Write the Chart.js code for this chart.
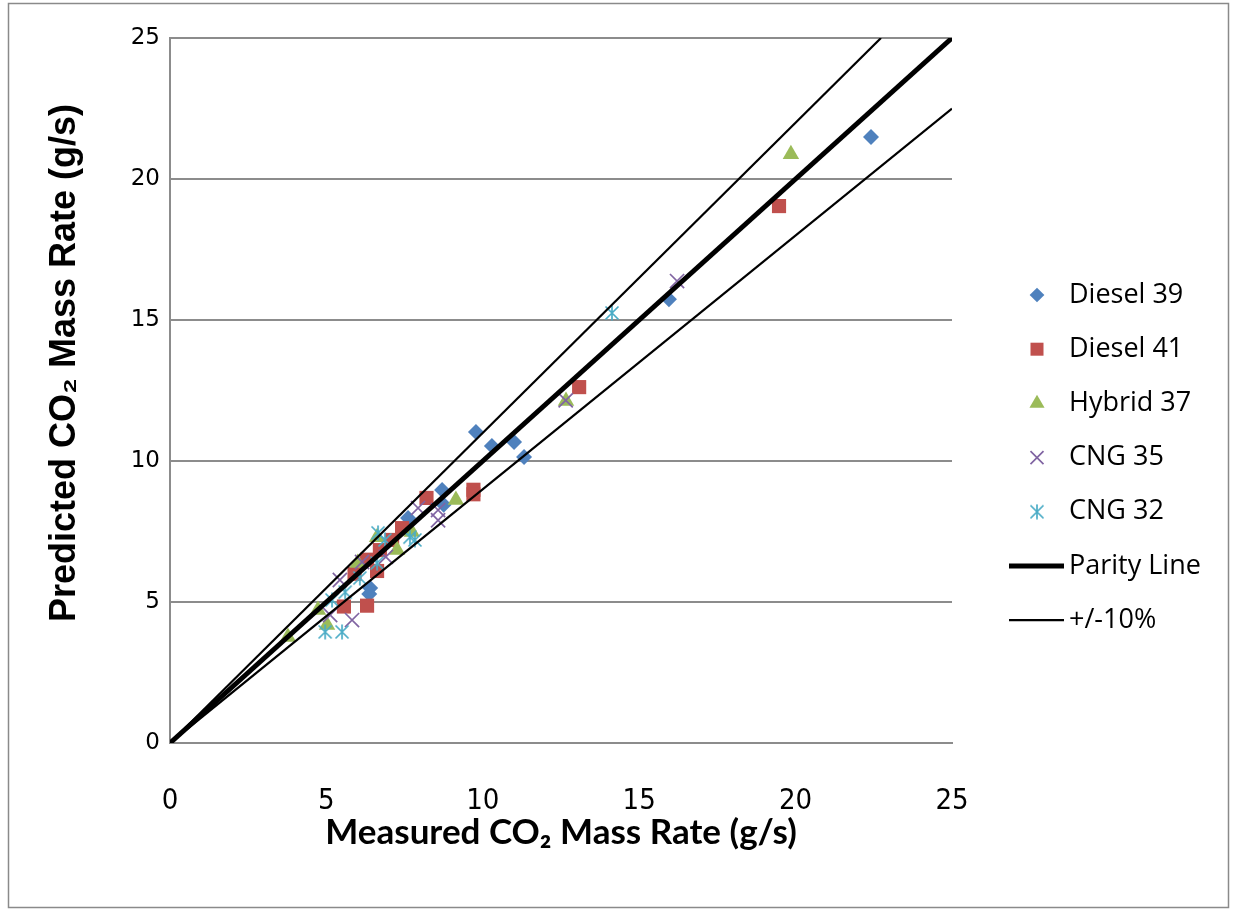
<!DOCTYPE html>
<html><head><meta charset="utf-8">
<script src="https://cdn.jsdelivr.net/npm/chart.js@4.4.0/dist/chart.umd.min.js"></script>
<style>html,body{margin:0;padding:0;background:#fff;}#wrap{position:relative;width:1233px;height:912px;}</style>
</head><body><div id="wrap"><canvas id="c" width="1233" height="912"></canvas></div>
<script>
// ---- data ----
const seriesNames = ['Diesel 39', 'Diesel 41', 'Hybrid 37', 'CNG 35', 'CNG 32', 'Parity Line', '+/-10%'];
const diesel39 = [[22.41,21.49],[15.95,15.74],[9.78,11.03],[10.29,10.53],[11.0,10.67],[11.32,10.14],[8.70,8.97],[7.61,7.98],[6.40,5.50],[6.37,5.28],[8.75,8.45]];
const diesel41 = [[19.47,19.04],[13.08,12.62],[9.70,8.98],[9.70,8.82],[8.20,8.69],[5.56,4.84],[6.30,4.87],[6.62,6.10],[6.71,6.84],[7.42,7.62],[6.30,6.50],[7.10,7.20],[5.90,6.00]];
const hybrid37 = [[19.85,20.88],[12.66,12.13],[9.14,8.62],[6.62,7.30],[7.26,6.84],[6.00,6.38],[4.73,4.72],[5.02,4.18],[3.77,3.76],[7.73,7.48]];
const cng35 = [[16.21,16.38],[12.65,12.15],[7.93,8.33],[8.57,8.26],[8.57,7.90],[5.82,4.36],[5.12,4.54],[6.14,6.42],[5.43,5.78],[6.90,6.60]];
const cng32 = [[14.13,15.25],[4.96,3.94],[5.50,3.94],[5.18,5.07],[5.60,5.35],[6.07,5.85],[6.62,6.38],[6.65,7.45],[6.87,7.20],[7.67,7.30],[7.83,7.20]];
const parityLine = [[0,0],[25,25]];
const plusTen = [[0,0],[22.73,25]];
const minusTen = [[0,0],[25,22.5]];
const axisMin = 0, axisMax = 25, tickStep = 5;
const xTitle = 'Measured CO\u2082 Mass Rate (g/s)';
const yTitle = 'Predicted CO\u2082 Mass Rate (g/s)';

const toXY = a => a.map(p => ({x: p[0], y: p[1]}));

function makeAsterisk(size, color, lw) {
  const c = document.createElement('canvas');
  c.width = size; c.height = size;
  const g = c.getContext('2d');
  g.strokeStyle = color; g.lineWidth = lw; g.lineCap = 'butt';
  const m = size / 2, d = size / 2 - 1.5;
  g.beginPath();
  g.moveTo(m - d, m - d); g.lineTo(m + d, m + d);
  g.moveTo(m + d, m - d); g.lineTo(m - d, m + d);
  g.moveTo(m, 0.5); g.lineTo(m, size - 0.5);
  g.stroke();
  return c;
}
const asterisk = makeAsterisk(16, '#4BACC6', 1.7);

function markerSet(label, data, style, color, radius, order, bw) {
  return {
    label, data: toXY(data), showLine: false, order,
    pointStyle: style, pointRadius: radius, pointHoverRadius: radius,
    pointBackgroundColor: color, pointBorderColor: color,
    pointBorderWidth: bw || 0, backgroundColor: color, borderColor: color
  };
}
function lineSet(label, data, width, hide) {
  return {
    label, data: toXY(data), showLine: true, order: 0, borderColor: '#000',
    backgroundColor: '#000', borderWidth: width, pointRadius: 0, pointHoverRadius: 0,
    fill: false, hideInLegend: !!hide
  };
}

const datasets = [
  markerSet(seriesNames[0], diesel39, 'rectRot', '#4F81BD', 8, 5),
  markerSet(seriesNames[1], diesel41, 'rect', '#C0504D', 10, 4),
  markerSet(seriesNames[2], hybrid37, 'triangle', '#9BBB59', 9.5, 3),
  markerSet(seriesNames[3], cng35, 'crossRot', '#8064A2', 10, 2, 1.7),
  markerSet(seriesNames[4], cng32, asterisk, '#4BACC6', 8, 1),
  lineSet(seriesNames[5], parityLine, 5),
  lineSet(seriesNames[6], plusTen, 2.2),
  lineSet(seriesNames[6], minusTen, 2.2, true)
];

const framePlugin = {
  id: 'frame',
  beforeDraw(chart) {
    const ctx = chart.ctx;
    ctx.save();
    ctx.fillStyle = '#fff';
    ctx.fillRect(0, 0, chart.width, chart.height);
    ctx.strokeStyle = '#8a8a8a';
    ctx.lineWidth = 1.5;
    ctx.strokeRect(8.5, 3.5, 1220, 904);
    ctx.restore();
  },
  afterDraw(chart) {
    // y axis title (placed as in the reference, slightly above the axis middle)
    const ctx = chart.ctx;
    ctx.save();
    ctx.translate(65, 363);
    ctx.rotate(-Math.PI / 2);
    ctx.fillStyle = '#000';
    ctx.font = 'bold 36px "Liberation Sans", Arial, sans-serif';
    ctx.textAlign = 'center';
    ctx.textBaseline = 'middle';
    ctx.fillText(yTitle, 0, 0);
    ctx.restore();
  }
};

const legendPlugin = {
  id: 'sideLegend',
  afterDraw(chart) {
    const ctx = chart.ctx;
    const items = chart.data.datasets.filter(d => !d.hideInLegend);
    const cx = chart.chartArea.right + 85;
    ctx.save();
    items.forEach((ds, i) => {
      const y = 295 + i * 54.2;
      if (ds.showLine) {
        ctx.strokeStyle = ds.borderColor;
        ctx.lineWidth = ds.borderWidth;
        ctx.beginPath();
        ctx.moveTo(cx - 28, y); ctx.lineTo(cx + 27, y);
        ctx.stroke();
      } else {
        ctx.fillStyle = ds.pointBackgroundColor;
        ctx.strokeStyle = ds.pointBorderColor;
        ctx.lineWidth = ds.pointBorderWidth;
        Chart.helpers.drawPoint(ctx, {pointStyle: ds.pointStyle, radius: ds.pointRadius * 0.92, rotation: 0, borderWidth: ds.pointBorderWidth}, cx, y);
      }
      ctx.fillStyle = '#000';
      ctx.font = '27px "Open Sans", sans-serif';
      ctx.textBaseline = 'middle';
      ctx.textAlign = 'left';
      ctx.fillText(ds.label, cx + 32, y);
    });
    ctx.restore();
  }
};

new Chart(document.getElementById('c'), {
  type: 'scatter',
  data: {datasets},
  options: {
    responsive: false, animation: false, devicePixelRatio: 1,
    layout: {padding: {top: 38, right: 281, left: 0, bottom: 0}, autoPadding: false},
    plugins: {legend: {display: false}, tooltip: {enabled: false}},
    scales: {
      x: {
        type: 'linear', min: axisMin, max: axisMax,
        ticks: {stepSize: tickStep, color: '#000', padding: 41,
          font: {family: '"Liberation Sans Narrow", "DejaVu Sans Condensed", sans-serif', size: 29}},
        grid: {display: false, drawTicks: false},
        border: {display: true, color: '#8c8c8c', width: 2},
        title: {display: true, text: xTitle, color: '#000', padding: {top: 0, bottom: 58},
          font: {family: 'Lato, sans-serif', size: 35, weight: 'bold'}},
        afterFit(s) { s.height = 169; }
      },
      y: {
        type: 'linear', min: axisMin, max: axisMax,
        ticks: {stepSize: tickStep, color: '#000', padding: 10,
          font: {family: '"DejaVu Sans", sans-serif', size: 23}},
        grid: {color: '#8c8c8c', lineWidth: 2, drawTicks: false},
        border: {display: true, color: '#8c8c8c', width: 2},
        title: {display: false, text: yTitle},
        afterFit(s) { s.width = 170; }
      }
    }
  },
  plugins: [framePlugin, legendPlugin]
});
</script></body></html>
